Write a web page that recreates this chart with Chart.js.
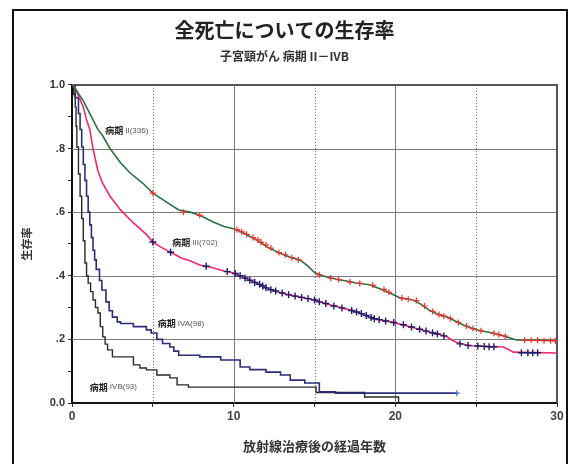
<!DOCTYPE html>
<html><head><meta charset="utf-8">
<script src="https://cdn.jsdelivr.net/npm/chart.js@4/dist/chart.umd.min.js"></script>
<style>html,body{margin:0;padding:0;background:#fff}#wrap{width:569px;height:464px;position:relative}</style>
</head><body><div id="wrap"><canvas id="c" width="569" height="464"></canvas></div>
<script>
// ---- data ----
const titleText = '全死亡についての生存率';
const subtitleText = '子宮頸がん 病期 II－IVB';
const yAxisTitle = '生存率';
const xAxisTitle = '放射線治療後の経過年数';
const xTickLabels = {0:'0',10:'10',20:'20',30:'30'};
const yTickLabels = {0:'0.0',2:'.2',4:'.4',6:'.6',8:'.8',10:'1.0'};

const timeII = [0,0.3,0.7,1.0,1.3,1.6,1.9,2.35,3.0,3.6,4.4,5.0,5.9,6.6,7.3,7.9,8.7,9.4,10.0,10.6,11.4,12.1,12.7,13.4,14.1,14.6,15.0,15.5,16.0,16.8,17.6,18.4,19.0,19.5,20.3,21.1,21.6,22.1,22.6,23.2,23.7,24.2,25.0,26.0,26.6,27.1,27.5,30];
const survII = [1.0,0.98,0.95,0.92,0.89,0.86,0.84,0.80,0.755,0.723,0.69,0.66,0.63,0.607,0.60,0.59,0.57,0.555,0.548,0.535,0.513,0.49,0.475,0.46,0.45,0.43,0.41,0.40,0.393,0.385,0.377,0.372,0.36,0.35,0.33,0.324,0.31,0.292,0.28,0.27,0.258,0.245,0.23,0.22,0.212,0.204,0.198,0.196];

const timeIII = [0,0.2,0.45,0.7,0.9,1.1,1.3,1.6,1.9,2.35,3.0,3.8,4.6,5.0,5.5,6.05,6.8,7.3,7.9,8.7,9.4,10.0,10.7,11.4,12.0,12.7,13.4,14.1,15.0,15.5,16.0,17.2,17.8,18.4,19.0,19.7,20.3,20.9,21.5,22.1,22.7,23.2,23.5,23.8,24.6,26.7,27.0,27.3,30];
const survIII = [1.0,0.99,0.96,0.93,0.89,0.86,0.80,0.73,0.69,0.65,0.607,0.566,0.53,0.506,0.49,0.475,0.455,0.447,0.434,0.425,0.415,0.409,0.393,0.377,0.362,0.35,0.34,0.333,0.324,0.315,0.308,0.292,0.283,0.27,0.262,0.255,0.248,0.24,0.232,0.223,0.216,0.208,0.198,0.19,0.18,0.176,0.168,0.16,0.157];

const timeIVA = [0,0.2,0.4,0.5,0.6,0.7,0.8,0.9,1.0,1.1,1.2,1.3,1.4,1.5,1.7,1.85,2.1,2.3,2.5,2.8,3.0,3.8,4.6,4.9,5.25,5.6,6.05,6.3,6.6,7.9,9.2,10.4,11.0,12.0,12.9,13.5,14.4,15.3,16.3,23.8];
const survIVA = [1.0,0.96,0.91,0.86,0.805,0.75,0.70,0.65,0.60,0.56,0.52,0.48,0.45,0.42,0.385,0.355,0.318,0.29,0.27,0.255,0.25,0.24,0.23,0.22,0.20,0.187,0.176,0.163,0.15,0.145,0.135,0.113,0.105,0.097,0.088,0.072,0.063,0.035,0.031,0.031];

const timeIVB = [0,0.1,0.2,0.25,0.3,0.4,0.5,0.6,0.7,0.8,0.9,1.0,1.15,1.3,1.45,1.6,1.75,1.9,2.05,2.2,2.5,3.8,4.2,4.6,5.25,6.05,6.5,7.2,15.1,18.1,20.2];
const survIVB = [1.0,0.97,0.93,0.87,0.805,0.72,0.65,0.58,0.51,0.44,0.40,0.377,0.35,0.324,0.30,0.283,0.24,0.208,0.185,0.167,0.145,0.12,0.11,0.104,0.088,0.079,0.057,0.05,0.033,0.019,0.0];

const censorTimeII = [5.0,6.9,7.9,10.2,10.5,10.8,11.2,11.5,11.7,12.0,12.3,12.8,13.2,13.6,14.0,15.3,16.0,16.5,17.2,17.8,18.6,19.3,19.6,20.4,20.8,21.3,21.8,22.3,22.7,23.0,23.4,23.9,24.4,24.8,25.3,26.1,26.4,26.8,28.0,28.4,28.8,29.2,29.6,29.9];
const censorSurvII = [0.66,0.60,0.59,0.545,0.538,0.53,0.52,0.513,0.505,0.497,0.487,0.473,0.466,0.457,0.45,0.403,0.393,0.388,0.38,0.376,0.37,0.357,0.348,0.33,0.326,0.322,0.305,0.288,0.278,0.273,0.266,0.253,0.242,0.234,0.227,0.219,0.215,0.21,0.197,0.197,0.197,0.196,0.196,0.196];

const censorTimeIII = [5.0,6.1,8.3,9.6,10.1,10.4,10.7,11.0,11.3,11.6,11.8,12.0,12.3,12.6,13.0,13.4,13.8,14.2,14.6,15.0,15.3,15.7,16.2,16.7,17.3,17.6,17.9,18.2,18.5,18.7,19.0,19.4,19.9,20.5,21.0,21.5,21.9,22.3,22.6,23.0,24.0,24.5,25.1,25.5,25.8,26.1,27.8,28.2,28.5,28.8];
const censorSurvIII = [0.506,0.474,0.43,0.413,0.407,0.40,0.393,0.386,0.379,0.373,0.368,0.362,0.356,0.352,0.346,0.34,0.336,0.332,0.328,0.324,0.318,0.313,0.305,0.299,0.291,0.286,0.281,0.275,0.269,0.265,0.262,0.258,0.253,0.246,0.239,0.232,0.226,0.221,0.217,0.211,0.186,0.181,0.179,0.178,0.177,0.177,0.158,0.158,0.158,0.158];

const censorTimeIVA = [23.8];
const censorSurvIVA = [0.031];

const curveLabels = ['II(336)','III(702)','IVA(98)','IVB(93)'];
const labelTime = [2.05,6.2,5.3,1.1];
const labelSurv = [0.855,0.503,0.25,0.05];

// ---- helpers ----
const pts = (t, s) => t.map((x, i) => ({x, y: s[i]}));

const cjk = '"Noto Sans CJK JP", "Noto Sans", sans-serif';
const lat = '"Liberation Sans", Arial, sans-serif';

const framePlugin = {
  id: 'frame',
  beforeDraw(chart) {
    const ctx = chart.ctx;
    ctx.save();
    ctx.strokeStyle = '#111';
    ctx.lineWidth = 2;
    ctx.strokeRect(13, 10, 554, 470);
    ctx.restore();
  },
  beforeDatasetsDraw(chart) {
    const {ctx, chartArea: a, scales: {x, y}} = chart;
    ctx.save();
    ctx.lineWidth = 1;
    [0.2, 0.4, 0.6, 0.8].forEach(v => {
      const py = Math.round(y.getPixelForValue(v)) + 0.5;
      ctx.strokeStyle = '#7c7c7c';
      ctx.beginPath(); ctx.moveTo(a.left, py); ctx.lineTo(a.right, py); ctx.stroke();
    });
    [10, 20].forEach(v => {
      const px = Math.round(x.getPixelForValue(v)) + 0.5;
      ctx.strokeStyle = '#7c7c7c';
      ctx.beginPath(); ctx.moveTo(px, a.top); ctx.lineTo(px, a.bottom); ctx.stroke();
    });
    ctx.setLineDash([1, 2]);
    [5, 15, 25].forEach(v => {
      const px = Math.round(x.getPixelForValue(v)) + 0.5;
      ctx.strokeStyle = '#666';
      ctx.beginPath(); ctx.moveTo(px, a.top); ctx.lineTo(px, a.bottom); ctx.stroke();
    });
    ctx.setLineDash([]);
    ctx.strokeStyle = '#555';
    ctx.lineWidth = 2;
    const top = Math.round(y.getPixelForValue(1));
    const right = Math.round(x.getPixelForValue(30));
    ctx.beginPath(); ctx.moveTo(a.left, top); ctx.lineTo(right, top); ctx.lineTo(right, a.bottom); ctx.stroke();
    ctx.restore();
  },
  afterDatasetsDraw(chart) {
    const {ctx, scales: {x, y}} = chart;
    ctx.save();
    ctx.textBaseline = 'middle';
    curveLabels.forEach((txt, i) => {
      let px = x.getPixelForValue(labelTime[i]);
      const py = y.getPixelForValue(labelSurv[i]);
      ctx.font = 'bold 9px ' + cjk;
      ctx.fillStyle = '#222';
      ctx.fillText('病期', px, py);
      px += ctx.measureText('病期 ').width;
      ctx.font = '8px ' + lat;
      ctx.fillStyle = '#555';
      ctx.fillText(txt, px, py);
    });
    ctx.restore();
  }
};

new Chart(document.getElementById('c'), {
  type: 'line',
  data: {
    datasets: [
      {data: pts(censorTimeII, censorSurvII), showLine: false, pointStyle: 'cross', pointRadius: 3, borderColor: '#ff2a2a', borderWidth: 1.2, backgroundColor: '#ff2a2a'},
      {data: pts(censorTimeIII, censorSurvIII), showLine: false, pointStyle: 'cross', pointRadius: 3.5, borderColor: '#1c1c6e', borderWidth: 1.4, backgroundColor: '#1c1c6e'},
      {data: pts(censorTimeIVA, censorSurvIVA), showLine: false, pointStyle: 'cross', pointRadius: 3, borderColor: '#3a6fd0', borderWidth: 1.2},
      {data: pts(timeII, survII), borderColor: '#2b7040', borderWidth: 1.6, pointRadius: 0, tension: 0},
      {data: pts(timeIII, survIII), borderColor: '#f3286c', borderWidth: 1.6, pointRadius: 0, tension: 0},
      {data: pts(timeIVA, survIVA), borderColor: '#2b2f7a', borderWidth: 1.6, pointRadius: 0, stepped: true},
      {data: pts(timeIVB, survIVB), borderColor: '#2a2a2a', borderWidth: 1.4, pointRadius: 0, stepped: true}
    ]
  },
  options: {
    responsive: false,
    animation: false,
    devicePixelRatio: 1,
    layout: {padding: {top: 10, left: 12, right: 12, bottom: 0}},
    plugins: {
      legend: {display: false},
      tooltip: {enabled: false},
      title: {display: true, text: titleText, color: '#222', font: {family: cjk, size: 20, weight: 'bold', lineHeight: 1.2}, padding: {top: 8, bottom: 0}},
      subtitle: {display: true, text: subtitleText, color: '#333', font: {family: cjk, size: 12, weight: 'bold', lineHeight: 1.2}, padding: {top: 7.5, bottom: 21}}
    },
    scales: {
      x: {
        type: 'linear', min: 0, max: 30,
        afterFit: s => { s.height = 61; },
        grid: {display: true, drawOnChartArea: false, drawTicks: true, tickLength: 4, tickColor: '#333'},
        border: {display: true, color: '#111', width: 2},
        ticks: {stepSize: 5, autoSkip: false, maxRotation: 0, padding: 2, color: '#444', font: {family: lat, size: 12, weight: 'bold'},
          callback: v => (xTickLabels[v] !== undefined ? xTickLabels[v] : '')},
        title: {display: true, text: xAxisTitle, color: '#333', font: {family: cjk, size: 13, weight: 'bold', lineHeight: 1.2}, padding: {top: 0, bottom: 10}}
      },
      y: {
        type: 'linear', min: 0, max: 1,
        afterFit: s => { s.width = 60; },
        grid: {display: true, drawOnChartArea: false, drawTicks: true, tickLength: 4, tickColor: '#333'},
        border: {display: true, color: '#111', width: 2},
        ticks: {stepSize: 0.1, autoSkip: false, padding: 3, color: '#333', font: {family: lat, size: 11, weight: 'bold'},
          callback: v => { const k = Math.round(v * 10); return yTickLabels[k] !== undefined ? yTickLabels[k] : ''; }},
        title: {display: true, text: yAxisTitle, color: '#333', font: {family: cjk, size: 11, weight: 'bold', lineHeight: 1.2}, padding: {top: 8, bottom: 0}}
      }
    }
  },
  plugins: [framePlugin]
});
</script></body></html>
